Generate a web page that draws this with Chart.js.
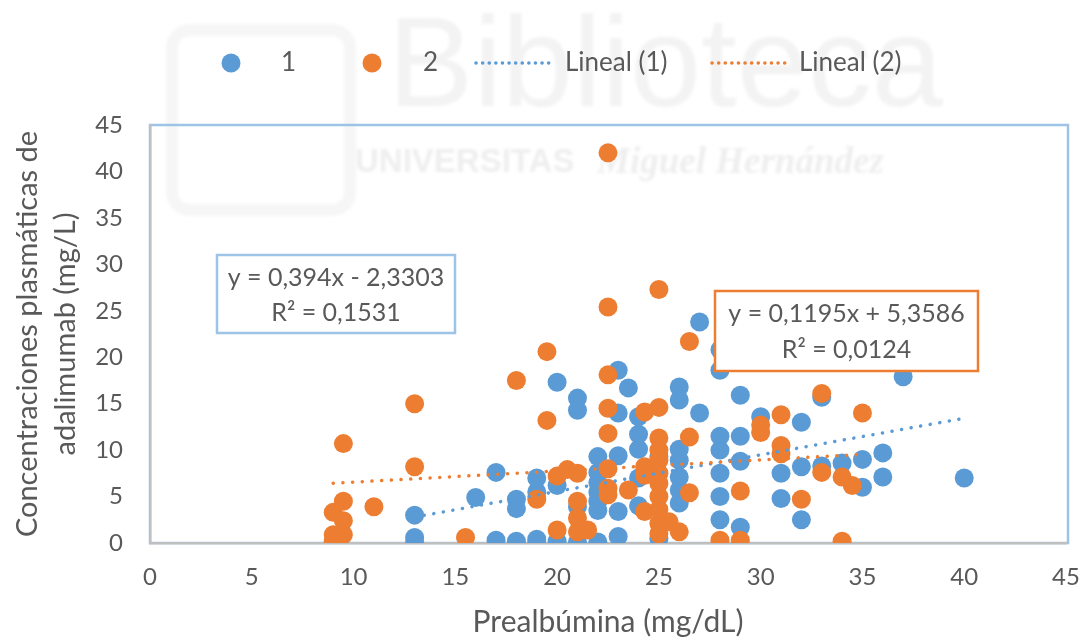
<!DOCTYPE html>
<html>
<head>
<meta charset="utf-8">
<title>Prealbúmina vs adalimumab</title>
<script src="https://cdn.jsdelivr.net/npm/chart.js@4.4.1/dist/chart.umd.min.js"></script>
<style>
  html, body { margin: 0; padding: 0; background: #fff; }
  #wrap { width: 1086px; height: 643px; position: relative; }
</style>
</head>
<body>
<div id="wrap"><canvas id="chart"></canvas></div>
<script>
(function () {
  'use strict';

  // Group 1 (blue): prealbumin (mg/dL) and adalimumab (mg/L)
  const group1X = [13, 13, 13, 16, 17, 17, 18, 18, 18, 19, 19, 19, 19, 20, 20, 20, 21, 21, 21, 21,
    22, 22, 22, 22, 22, 22, 22, 23, 23, 23, 23, 23, 23.5, 24, 24, 24, 24, 24, 25, 25,
    26, 26, 26, 26, 26, 26, 26, 27, 27, 28, 28, 28, 28, 28, 28, 28, 29, 29, 29, 29,
    30, 31, 31, 32, 32, 32, 33, 33, 34, 35, 35, 36, 36, 37, 40];
  const group1Y = [3.0, 0.6, 0.1, 4.9, 7.6, 0.3, 4.7, 3.7, 0.2, 7.0, 5.5, 0.4, 0.0, 17.3, 6.2, 0.2, 15.6, 14.3, 3.9, 0.1,
    9.3, 7.6, 6.5, 5.5, 4.5, 3.5, 0.1, 18.6, 14.0, 9.4, 3.4, 0.7, 16.7, 13.6, 11.7, 10.1, 7.0, 4.0, 9.3, 0.5,
    16.8, 15.4, 10.1, 8.9, 7.1, 5.7, 4.3, 23.8, 14.0, 20.8, 18.6, 11.5, 10.0, 7.5, 5.0, 2.5, 15.9, 11.5, 8.8, 1.7,
    13.6, 7.5, 4.8, 13.0, 8.2, 2.5, 15.7, 8.3, 8.6, 9.0, 6.0, 9.7, 7.1, 17.9, 7.0];

  // Group 2 (orange)
  const group2X = [9, 9, 9, 9.5, 9.5, 9.5, 9.5, 11, 13, 13, 15.5, 18, 19, 19.5, 19.5, 20, 20, 20.5,
    21, 21, 21, 21, 21.5, 22.5, 22.5, 22.5, 22.5, 22.5, 22.5, 22.5, 22.5, 23.5, 24.3, 24.3, 24.3, 24.3,
    25, 25, 25, 25, 25, 25, 25, 25, 25, 25, 25, 25.5, 26, 26.5, 26.5, 26.5, 28, 29, 29, 30, 30,
    31, 31, 31, 32, 33, 33, 34, 34, 34.5, 35];
  const group2Y = [3.3, 0.9, 0.2, 10.7, 4.5, 2.4, 0.9, 3.9, 15.0, 8.2, 0.6, 17.5, 4.7, 20.6, 13.2, 7.2, 1.4, 7.9,
    7.5, 4.5, 2.7, 1.2, 1.4, 42.0, 25.4, 18.1, 14.5, 11.8, 8.0, 5.9, 5.2, 5.7, 14.1, 8.2, 7.3, 3.4,
    27.3, 14.6, 11.3, 10.0, 8.9, 7.5, 6.4, 5.0, 3.6, 2.1, 1.0, 2.3, 1.2, 21.7, 11.4, 5.4, 0.3, 5.6, 0.3, 12.7, 11.9,
    13.8, 10.5, 9.6, 4.7, 16.1, 7.6, 7.1, 0.2, 6.2, 14.0];

  // linear trend lines (slope, intercept, R²) as shown in the labels
  const trend1 = [0.394, -2.3303, 0.1531];
  const trend2 = [0.1195, 5.3586, 0.0124];

  const seriesNames = ['1', '2', 'Lineal (1)', 'Lineal (2)'];
  const axisTicks = [0, 45, 5]; // min, max, step for both axes
  const xTitle = 'Prealbúmina (mg/dL)';
  const yTitle = ['Concentraciones plasmáticas de', 'adalimumab (mg/L)'];

  const BLUE = '#5B9BD5';
  const ORANGE = '#ED7D31';
  const TEXT = '#595959';
  const FONT = 'Lato, "Open Sans", sans-serif';

  function points(xs, ys) {
    return xs.map((x, i) => ({ x: x, y: ys[i] }));
  }

  function trendPoints(xs, coef) {
    const x0 = Math.min(...xs);
    const x1 = Math.max(...xs);
    return [{ x: x0, y: coef[0] * x0 + coef[1] }, { x: x1, y: coef[0] * x1 + coef[1] }];
  }

  // spanish number format for the equation boxes
  function fmt(v) {
    return String(v).replace('.', ',');
  }
  function equation(coef) {
    const sign = coef[1] < 0 ? ' - ' : ' + ';
    return ['y = ' + fmt(coef[0]) + 'x' + sign + fmt(Math.abs(coef[1])), 'R² = ' + fmt(coef[2])];
  }

  // faint library watermark + plot area frame, under everything
  const background = {
    id: 'background',
    beforeDraw(chart) {
      const ctx = chart.ctx;
      const a = chart.chartArea;
      ctx.save();
      ctx.fillStyle = '#fff';
      ctx.fillRect(0, 0, chart.width, chart.height);

      ctx.filter = 'blur(1.5px)';
      ctx.strokeStyle = '#f6f6f6';
      ctx.lineWidth = 12;
      ctx.beginPath();
      ctx.roundRect(172, 30, 178, 180, 18);
      ctx.stroke();

      ctx.fillStyle = '#f3f3f3';
      ctx.font = '128px "Liberation Sans", sans-serif';
      ctx.textBaseline = 'alphabetic';
      ctx.fillText('Biblioteca', 388, 106);
      ctx.fillStyle = '#eeeeee';
      ctx.font = 'bold 33px "Liberation Sans", sans-serif';
      ctx.fillText('UNIVERSITAS', 355, 172);
      ctx.font = 'italic bold 37px "Liberation Serif", serif';
      ctx.fillText('Miguel Hernández', 597, 173);
      ctx.filter = 'none';

      ctx.strokeStyle = '#9DC3E6';
      ctx.lineWidth = 2.5;
      ctx.strokeRect(a.left, a.top, a.right - a.left + 2, a.bottom - a.top);
      ctx.restore();
    }
  };

  // legend row and the two equation boxes
  const overlay = {
    id: 'overlay',
    afterDraw(chart) {
      const ctx = chart.ctx;
      ctx.save();
      ctx.fillStyle = TEXT;
      ctx.textBaseline = 'middle';
      ctx.font = '26px ' + FONT;
      const ly = 63;

      ctx.fillStyle = BLUE;
      ctx.beginPath(); ctx.arc(231, ly, 9.5, 0, Math.PI * 2); ctx.fill();
      ctx.fillStyle = ORANGE;
      ctx.beginPath(); ctx.arc(372, ly, 9.5, 0, Math.PI * 2); ctx.fill();

      ctx.lineCap = 'round';
      ctx.lineWidth = 3.5;
      ctx.setLineDash([0.1, 6.5]);
      ctx.strokeStyle = BLUE;
      ctx.beginPath(); ctx.moveTo(476, ly); ctx.lineTo(555, ly); ctx.stroke();
      ctx.strokeStyle = ORANGE;
      ctx.beginPath(); ctx.moveTo(712, ly); ctx.lineTo(790, ly); ctx.stroke();
      ctx.setLineDash([]);

      ctx.fillStyle = TEXT;
      ctx.fillText(seriesNames[0], 281, ly);
      ctx.fillText(seriesNames[1], 423, ly);
      ctx.fillText(seriesNames[2], 565, ly);
      ctx.fillText(seriesNames[3], 799, ly);

      drawBox(ctx, 217, 255, 238, 78, '#9DC3E6', equation(trend1));
      drawBox(ctx, 715, 291, 263, 80, ORANGE, equation(trend2));
      ctx.restore();
    }
  };

  function drawBox(ctx, x, y, w, h, color, lines) {
    ctx.fillStyle = '#fff';
    ctx.fillRect(x, y, w, h);
    ctx.strokeStyle = color;
    ctx.lineWidth = 2.5;
    ctx.strokeRect(x, y, w, h);
    ctx.fillStyle = TEXT;
    ctx.font = '25px ' + FONT;
    ctx.textAlign = 'center';
    ctx.textBaseline = 'middle';
    ctx.fillText(lines[0], x + w / 2, y + h * 0.29);
    ctx.fillText(lines[1], x + w / 2, y + h * 0.74);
    ctx.textAlign = 'left';
  }

  const dotted = {
    type: 'line',
    showLine: true,
    borderWidth: 3.5,
    borderCapStyle: 'round',
    borderDash: [0.1, 9.6],
    pointRadius: 0,
    fill: false
  };

  new Chart(document.getElementById('chart'), {
    type: 'scatter',
    data: {
      datasets: [
        { label: seriesNames[0], data: points(group1X, group1Y), backgroundColor: BLUE, borderColor: BLUE,
          pointRadius: 9.5, pointBorderWidth: 0, order: 4 },
        { label: seriesNames[1], data: points(group2X, group2Y), backgroundColor: ORANGE, borderColor: ORANGE,
          pointRadius: 9.5, pointBorderWidth: 0, order: 3 },
        Object.assign({ label: seriesNames[2], data: trendPoints(group1X, trend1), borderColor: BLUE, order: 2 }, dotted),
        Object.assign({ label: seriesNames[3], data: trendPoints(group2X, trend2), borderColor: ORANGE, order: 1 }, dotted)
      ]
    },
    options: {
      responsive: true,
      maintainAspectRatio: false,
      animation: false,
      layout: { padding: { top: 125, right: 20, left: 0, bottom: 0 } },
      plugins: { legend: { display: false }, tooltip: { enabled: false } },
      scales: {
        x: {
          type: 'linear', min: axisTicks[0], max: axisTicks[1],
          ticks: { stepSize: axisTicks[2], color: TEXT, padding: 20, font: { family: FONT, size: 24 } },
          grid: { drawOnChartArea: false, drawTicks: false },
          border: { color: '#BFBFBF', width: 2.5 },
          title: { display: true, text: xTitle, color: TEXT, font: { family: FONT, size: 30 }, padding: { top: 0, bottom: 3 } },
          afterFit(scale) {
            scale.height = 100;
            scale.paddingLeft = 0;
            scale.paddingRight = 0;
          }
        },
        y: {
          type: 'linear', min: axisTicks[0], max: axisTicks[1],
          ticks: { stepSize: axisTicks[2], color: TEXT, padding: 27, font: { family: FONT, size: 24 } },
          grid: { drawOnChartArea: false, drawTicks: false },
          border: { color: '#BFBFBF', width: 2.5 },
          title: { display: true, text: yTitle, color: TEXT, font: { family: FONT, size: 29, lineHeight: 1.3 }, padding: { top: 9, bottom: 0 } },
          afterFit(scale) { scale.width = 150; }
        }
      }
    },
    plugins: [background, overlay]
  });
})();
</script>
</body>
</html>
